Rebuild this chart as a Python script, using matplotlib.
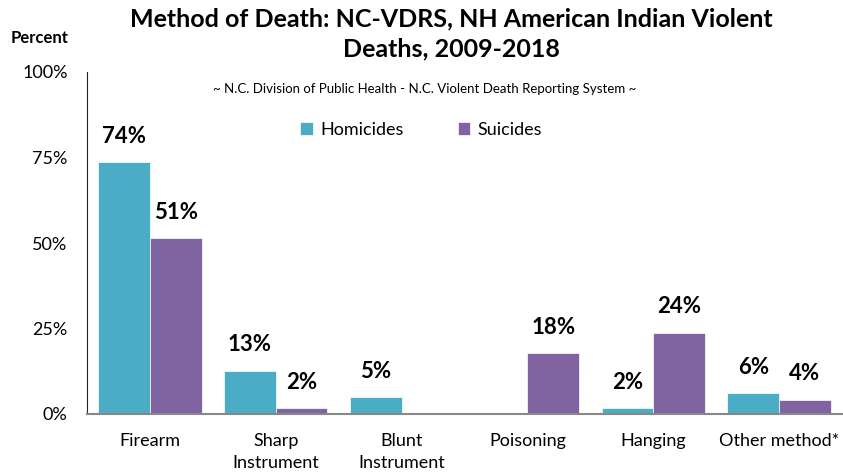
import matplotlib
matplotlib.use("Agg")
import matplotlib.pyplot as plt
import numpy as np

plt.rcParams['font.family'] = ['Lato', 'DejaVu Sans']

categories = ["Firearm", "Sharp\nInstrument", "Blunt\nInstrument", "Poisoning", "Hanging", "Other method*"]
homicides = [73.7, 12.7, 5.0, 0, 1.8, 6.0]
suicides = [51.5, 1.8, 0, 17.9, 23.8, 4.2]
hom_labels = ["74%", "13%", "5%", "", "2%", "6%"]
sui_labels = ["51%", "2%", "", "18%", "24%", "4%"]
yticks = [0, 25, 50, 75, 100]

c_hom = "#4BACC6"
c_sui = "#8064A2"

fig = plt.figure(figsize=(8.43, 4.76), dpi=100)
ax = fig.add_axes([87/843, 1-414/476, (842-87)/843, (414-72)/476])

x = np.arange(len(categories))
w = 0.41
b1 = ax.bar(x - w/2, homicides, w, color=c_hom, label="Homicides", edgecolor="white", linewidth=0.5)
b2 = ax.bar(x + w/2, suicides, w, color=c_sui, label="Suicides", edgecolor="white", linewidth=0.5)

for bars, labs in ((b1, hom_labels), (b2, sui_labels)):
    for r, lab in zip(bars, labs):
        if lab:
            ax.annotate(lab, (r.get_x() + r.get_width()/2, r.get_height()),
                        xytext=(0, 11), textcoords="offset points",
                        ha="center", va="bottom", fontsize=16, fontweight="bold")

ax.set_xlim(-0.5, len(categories) - 0.5)
ax.set_ylim(0, 100)
ax.set_yticks(yticks)
ax.set_yticklabels([f"{v}%" for v in yticks], fontsize=13)
ax.set_xticks(x)
ax.set_xticklabels(categories, fontsize=13, linespacing=1.4, va="top")
ax.tick_params(axis="y", length=0, pad=14)
ax.tick_params(axis="x", length=0, pad=14)
for s in ("top", "right"):
    ax.spines[s].set_visible(False)
ax.spines["left"].set_color("#222222")
ax.spines["bottom"].set_color("#888888")
ax.spines["bottom"].set_linewidth(1.5)

fig.text(451/843, 1-34/476, "Method of Death: NC-VDRS, NH American Indian Violent\nDeaths, 2009-2018",
         ha="center", va="center", fontsize=18, fontweight="bold", linespacing=1.35)
fig.text(40/843, 1-38/476, "Percent", ha="center", va="center", fontsize=12, fontweight="bold")
fig.text(425/843, 1-89/476, "~ N.C. Division of Public Health - N.C. Violent Death Reporting System ~",
         ha="center", va="center", fontsize=9.5)

ax.legend(loc="center", bbox_to_anchor=(421/843, 1-130/476), bbox_transform=fig.transFigure,
          ncol=2, frameon=False, fontsize=13, handlelength=0.7, handleheight=0.7,
          columnspacing=3, handletextpad=0.4)

fig.savefig("out.png", dpi=100)
